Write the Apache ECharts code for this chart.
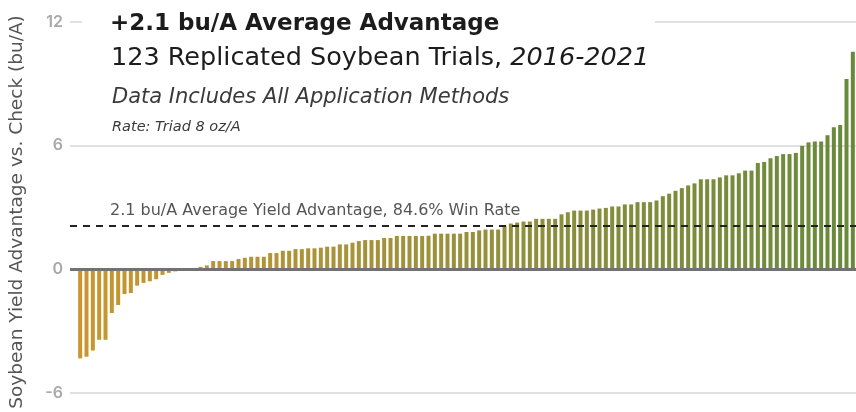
<!DOCTYPE html>
<html>
<head>
<meta charset="utf-8">
<script src="https://cdn.jsdelivr.net/npm/echarts@6/dist/echarts.min.js"></script>
<style>
html,body{margin:0;padding:0;background:#fff;}
#c{width:856px;height:412px;}
</style>
</head>
<body>
<div id="c"></div>
<script>
// ---- data ----
const categories = Array.from({length: 123}, (_, i) => 'Trial ' + (i + 1));
const yieldAdvantage = [
  -4.32,-4.24,-3.94,-3.42,-3.42,-2.12,-1.73,-1.20,-1.15,-0.79,-0.66,-0.58,-0.48,-0.27,-0.17,-0.10,-0.05,-0.03,-0.02,
  0.12,0.19,0.40,0.40,0.40,0.40,0.50,0.56,0.61,0.61,0.61,
  0.79,0.79,0.90,0.90,0.98,0.98,1.02,1.02,1.05,1.10,
  1.10,1.21,1.21,1.29,1.37,1.42,1.42,1.42,1.52,1.52,
  1.62,1.62,1.62,1.62,1.62,1.63,1.73,1.73,1.73,1.73,
  1.73,1.81,1.81,1.89,1.93,1.93,1.93,2.11,2.22,2.27,
  2.32,2.32,2.45,2.45,2.45,2.45,2.67,2.77,2.85,2.85,
  2.85,2.90,2.95,2.98,3.05,3.05,3.15,3.15,3.26,3.26,
  3.26,3.34,3.55,3.67,3.81,3.94,4.07,4.17,4.37,4.37,
  4.37,4.46,4.56,4.56,4.66,4.79,4.79,5.16,5.21,5.39,
  5.50,5.59,5.59,5.65,5.99,6.16,6.20,6.20,6.50,6.89,
  7.00,9.23,10.56
];
const yTicks = [-6, 0, 6, 12];
const averageAdvantage = 2.1;
const averageLabel = '2.1 bu/A Average Yield Advantage, 84.6% Win Rate';
const titleLine1 = '+2.1 bu/A Average Advantage';
const titleLine2a = '123 Replicated Soybean Trials, ';
const titleLine2b = '2016-2021';
const titleLine3 = 'Data Includes All Application Methods';
const titleLine4 = 'Rate: Triad 8 oz/A';
const yAxisName = 'Soybean Yield Advantage vs. Check (bu/A)';

const FONT = '"DejaVu Sans", sans-serif';
const yMin = yTicks[0], yMax = yTicks[yTicks.length - 1], yStep = yTicks[1] - yTicks[0];

const chart = echarts.init(document.getElementById('c'));
chart.setOption({
  animation: false,
  grid: [
    {left: 70, right: 0, top: 22, bottom: 19},
    {left: 77, right: 0, top: 22, bottom: 19}
  ],
  xAxis: [
    {gridIndex: 0, type: 'value', min: 0, max: 1, show: false},
    {gridIndex: 1, type: 'category', data: categories, show: false, boundaryGap: true}
  ],
  yAxis: [
    {
      gridIndex: 0, type: 'value', min: yMin, max: yMax, interval: yStep,
      axisLine: {show: false}, axisTick: {show: false},
      axisLabel: {color: '#a9a9a9', fontSize: 16, fontWeight: 600, fontFamily: 'Inter, sans-serif', margin: 7},
      splitLine: {lineStyle: {color: '#d6d6d6', width: 1.5}}
    },
    {gridIndex: 1, type: 'value', min: yMin, max: yMax, interval: yStep, show: false, splitLine: {show: false}}
  ],
  visualMap: {
    show: false, type: 'continuous', seriesIndex: 0, dimension: 0,
    min: 0, max: yieldAdvantage.length - 1,
    inRange: {color: ['#c9962e', '#a8933a', '#878d3c', '#678a3a']}
  },
  series: [
    {
      type: 'bar', xAxisIndex: 1, yAxisIndex: 1, z: 2,
      barWidth: 4,
      data: yieldAdvantage.map((v, i) => [i, v])
    },
    {
      type: 'line', xAxisIndex: 0, yAxisIndex: 0, z: 5,
      data: [[0, 0]], showSymbol: false, symbol: 'none', lineStyle: {opacity: 0},
      markLine: {
        silent: true, symbol: 'none', animation: false, label: {show: false},
        data: [
          {yAxis: 0, lineStyle: {color: '#727272', width: 3, type: 'solid'}},
          {yAxis: averageAdvantage, lineStyle: {color: '#222', width: 2, type: [7, 6]}}
        ]
      }
    }
  ],
  graphic: [
    {type: 'rect', z: 10, shape: {x: 82, y: 0, width: 573, height: 138}, style: {fill: '#fff'}},
    {type: 'text', z: 11, x: 110, y: 24, style: {text: titleLine1, font: 'bold 23px ' + FONT, fill: '#1c1c1c', verticalAlign: 'middle'}},
    {type: 'text', z: 11, x: 111, y: 58, style: {
      text: '{a|' + titleLine2a + '}{b|' + titleLine2b + '}', verticalAlign: 'middle',
      rich: {
        a: {font: '25.5px ' + FONT, fill: '#1c1c1c'},
        b: {font: 'italic 25.5px ' + FONT, fill: '#1c1c1c'}
      }
    }},
    {type: 'text', z: 11, x: 112, y: 98, style: {text: titleLine3, font: 'italic 21px ' + FONT, fill: '#3a3a3a', verticalAlign: 'middle'}},
    {type: 'text', z: 11, x: 112, y: 127, style: {text: titleLine4, font: 'italic 14.5px ' + FONT, fill: '#3a3a3a', verticalAlign: 'middle'}},
    {type: 'text', z: 11, x: 110, y: 211, style: {text: averageLabel, font: '16px ' + FONT, fill: '#555', verticalAlign: 'middle'}},
    {type: 'text', z: 11, x: 17, y: 212, rotation: Math.PI / 2, style: {text: yAxisName, font: '18.5px ' + FONT, fill: '#555', align: 'center', verticalAlign: 'middle'}}
  ]
});
</script>
</body>
</html>
